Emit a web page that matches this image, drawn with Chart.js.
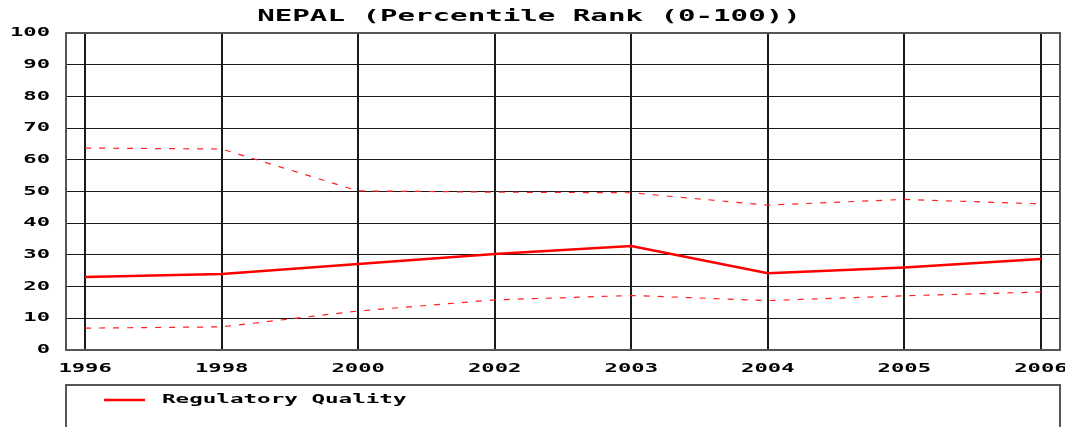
<!DOCTYPE html>
<html>
<head>
<meta charset="utf-8">
<script src="https://cdn.jsdelivr.net/npm/chart.js@4/dist/chart.umd.min.js"></script>
<style>
  html, body { margin: 0; padding: 0; background: #fff; }
  #wrap { width: 1065px; height: 427px; }
</style>
</head>
<body>
<div id="wrap"><canvas id="grafico"></canvas></div>
<script>
// Dados
const anos = ['1996', '1998', '2000', '2002', '2003', '2004', '2005', '2006'];
const qualidade = [23.0, 24.0, 27.1, 30.3, 32.8, 24.2, 26.0, 28.7];
const limiteSuperior = [63.7, 63.4, 50.2, 49.8, 49.6, 45.7, 47.5, 46.1];
const limiteInferior = [6.9, 7.3, 12.3, 15.8, 17.2, 15.6, 17.1, 18.3];
const ticksY = [0, 10, 20, 30, 40, 50, 60, 70, 80, 90, 100];

const titulo = 'NEPAL (Percentile Rank (0-100))';
const nomeSerie = 'Regulatory Quality';
const fonte = "'DejaVu Sans Mono', monospace";
const esticar = 1.85; // a fonte do original é bem larga

function pontos(valores) {
    return valores.map((v, i) => ({ x: i, y: v }));
}

// Escreve texto esticado na horizontal
function textoLargo(ctx, texto, x, y, fator, alinhamento) {
    ctx.save();
    ctx.translate(x, y);
    ctx.scale(fator, 1);
    ctx.textAlign = alinhamento;
    ctx.fillText(texto, 0, 0);
    ctx.restore();
}

// Troca o desenho dos rótulos dos eixos por texto esticado
const rotulosLargos = {
    id: 'rotulosLargos',
    beforeDraw(chart) {
        Object.values(chart.scales).forEach(scale => {
            if (scale._largo) return;
            scale._largo = true;
            scale.drawLabels = function (chartArea) {
                const ctx = this.ctx;
                this.getLabelItems(chartArea).forEach(item => {
                    const op = item.options;
                    ctx.save();
                    ctx.font = item.font.string;
                    ctx.fillStyle = op.color;
                    ctx.textBaseline = op.textBaseline;
                    ctx.translate(op.translation[0], op.translation[1]);
                    ctx.scale(esticar, 1);
                    ctx.textAlign = op.textAlign;
                    ctx.fillText(item.label, 0, item.textOffset);
                    ctx.restore();
                });
            };
        });
    }
};

// Título, moldura e legenda
const extras = {
    id: 'extras',
    afterDraw(chart) {
        const ctx = chart.ctx;
        const area = chart.chartArea;
        ctx.save();
        // moldura da área do gráfico
        ctx.strokeStyle = '#555';
        ctx.lineWidth = 2;
        ctx.strokeRect(area.left, area.top, area.right - area.left, area.bottom - area.top);

        // título
        ctx.font = 'bold 16px ' + fonte;
        ctx.fillStyle = '#000';
        ctx.textBaseline = 'middle';
        textoLargo(ctx, titulo, 529, 17, 1.82, 'center');

        // caixa da legenda
        ctx.strokeStyle = '#555';
        ctx.lineWidth = 2;
        ctx.strokeRect(area.left, 385, area.right - area.left, 60);
        ctx.strokeStyle = '#ff0000';
        ctx.lineWidth = 2.5;
        ctx.beginPath();
        ctx.moveTo(104, 400);
        ctx.lineTo(145, 400);
        ctx.stroke();
        ctx.font = 'bold 12px ' + fonte;
        textoLargo(ctx, nomeSerie, 162, 400, 1.88, 'left');
        ctx.restore();
    }
};

const ctx = document.getElementById('grafico').getContext('2d');
const grafico = new Chart(ctx, {
    type: 'line',
    data: {
        datasets: [
            {
                label: nomeSerie,
                data: pontos(qualidade),
                borderColor: '#ff0000',
                backgroundColor: '#ff0000',
                borderWidth: 2.5,
                pointRadius: 0,
                tension: 0
            },
            {
                label: 'superior',
                data: pontos(limiteSuperior),
                borderColor: '#ff2020',
                borderWidth: 1.2,
                borderDash: [6, 8],
                pointRadius: 0,
                tension: 0
            },
            {
                label: 'inferior',
                data: pontos(limiteInferior),
                borderColor: '#ff2020',
                borderWidth: 1.2,
                borderDash: [6, 8],
                pointRadius: 0,
                tension: 0
            }
        ]
    },
    options: {
        responsive: true,
        maintainAspectRatio: false,
        animation: false,
        layout: {
            padding: { top: 33, right: 5, bottom: 44, left: 0 }
        },
        plugins: {
            legend: { display: false },
            title: { display: false },
            tooltip: { enabled: false }
        },
        scales: {
            x: {
                type: 'linear',
                min: -0.14,
                max: 7.14,
                afterBuildTicks(scale) {
                    scale.ticks = anos.map((_, i) => ({ value: i }));
                },
                afterFit(scale) {
                    scale.height = 33;
                    scale.paddingLeft = 0;
                    scale.paddingRight = 0;
                },
                ticks: {
                    autoSkip: false,
                    maxRotation: 0,
                    padding: 12,
                    color: '#000',
                    font: { family: fonte, size: 12, weight: 'bold' },
                    callback: (value) => anos[value]
                },
                grid: {
                    color: '#1a1a1a',
                    lineWidth: 2,
                    drawTicks: false
                },
                border: { display: false }
            },
            y: {
                min: 0,
                max: 100,
                afterBuildTicks(scale) {
                    scale.ticks = ticksY.map(v => ({ value: v }));
                },
                afterFit(scale) {
                    scale.width = 66;
                    scale.paddingTop = 0;
                    scale.paddingBottom = 0;
                },
                ticks: {
                    padding: 16,
                    color: '#000',
                    font: { family: fonte, size: 12, weight: 'bold' }
                },
                grid: {
                    color: '#1a1a1a',
                    lineWidth: 1,
                    drawTicks: false
                },
                border: { display: false }
            }
        }
    },
    plugins: [rotulosLargos, extras]
});
</script>
</body>
</html>
